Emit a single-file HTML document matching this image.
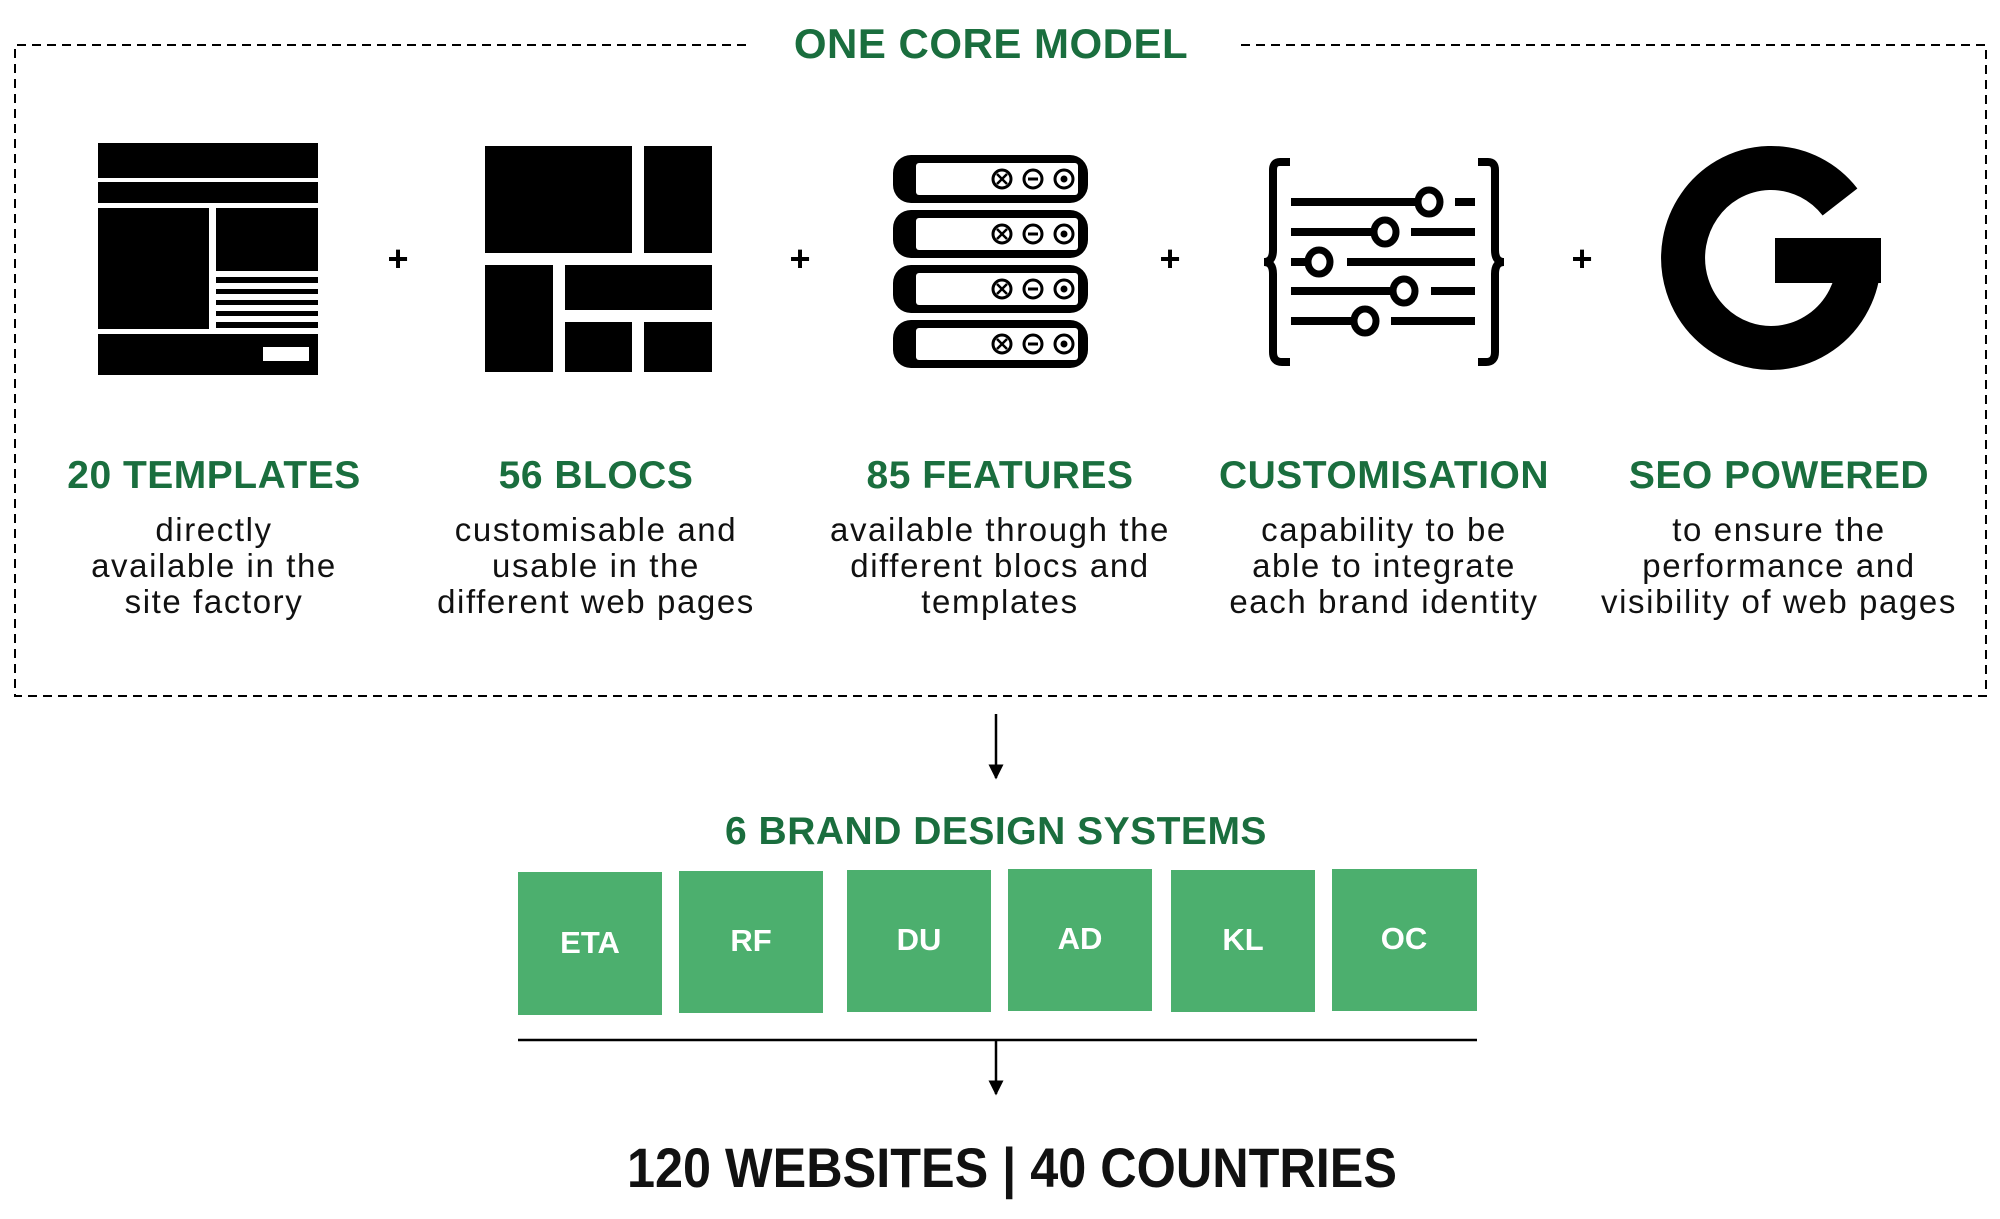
<!DOCTYPE html>
<html><head><meta charset="utf-8"><style>
html,body{margin:0;padding:0;background:#fff;}
svg{display:block;}
.h{font-family:"Liberation Sans",sans-serif;font-weight:bold;fill:#1a6e3e;text-anchor:middle;letter-spacing:0.5px;}
.b{font-family:"Liberation Sans",sans-serif;fill:#111;text-anchor:middle;font-size:33px;letter-spacing:1.6px;}
.w{font-family:"Liberation Sans",sans-serif;font-weight:bold;fill:#fff;text-anchor:middle;font-size:31px;}
</style></head><body>
<svg width="2000" height="1219" viewBox="0 0 2000 1219" xmlns="http://www.w3.org/2000/svg">
<defs>
<marker id="ah" viewBox="0 0 10 10" refX="9" refY="5" markerWidth="6" markerHeight="6" orient="auto"><path d="M0,0 L10,5 L0,10 z" fill="#000"/></marker>
</defs>
<g stroke="#000" stroke-width="2" stroke-dasharray="9,6" fill="none">
<path d="M746,45 H15 V696 H1986 V45 H1237"/>
</g>
<text class="h" x="991" y="58" font-size="42">ONE CORE MODEL</text>

<g fill="#000">
<rect x="98" y="143" width="220" height="35"/>
<rect x="98" y="182" width="220" height="21"/>
<rect x="98" y="208" width="111" height="121"/>
<rect x="216" y="208" width="102" height="63"/>
<rect x="216" y="277" width="102" height="6"/>
<rect x="216" y="289" width="102" height="5"/>
<rect x="216" y="300" width="102" height="5"/>
<rect x="216" y="311" width="102" height="5"/>
<rect x="216" y="322" width="102" height="6"/>
<rect x="98" y="334" width="220" height="41"/>
</g>
<rect x="263" y="347" width="46" height="14" fill="#fff"/>

<g fill="#000">
<rect x="485" y="146" width="147" height="107"/>
<rect x="644" y="146" width="68" height="107"/>
<rect x="485" y="265" width="68" height="107"/>
<rect x="565" y="265" width="147" height="45"/>
<rect x="565" y="322" width="67" height="50"/>
<rect x="644" y="322" width="68" height="50"/>
</g>

<g>
<g id="srv">
<rect x="893" y="155" width="195" height="48" rx="18" fill="#000"/>
<rect x="916" y="163" width="162" height="32" rx="3" fill="#fff"/>
<circle cx="1002" cy="179" r="9" fill="none" stroke="#000" stroke-width="3"/>
<path d="M997,174 L1007,184 M1007,174 L997,184" stroke="#000" stroke-width="2.5"/>
<circle cx="1033" cy="179" r="9" fill="none" stroke="#000" stroke-width="3"/>
<rect x="1028" y="177.5" width="10" height="3" fill="#000"/>
<circle cx="1064" cy="179" r="9" fill="none" stroke="#000" stroke-width="3"/>
<circle cx="1064" cy="179" r="3.5" fill="#000"/>
</g>
<use href="#srv" y="55"/>
<use href="#srv" y="110"/>
<use href="#srv" y="165"/>
</g>

<g fill="none" stroke="#000" stroke-width="8">
<path d="M1290,162 H1280 Q1273,162 1273,170 V250 Q1273,262 1264,262 Q1273,262 1273,274 V352 Q1273,362 1282,362 H1290"/>
<path d="M1478,162 H1488 Q1495,162 1495,170 V250 Q1495,262 1504,262 Q1495,262 1495,274 V352 Q1495,362 1486,362 H1478"/>
</g>
<g fill="#000">
<rect x="1291" y="198" width="124" height="8"/><rect x="1455" y="198" width="20" height="8"/>
<rect x="1291" y="228" width="80" height="8"/><rect x="1411" y="228" width="64" height="8"/>
<rect x="1291" y="258" width="14" height="8"/><rect x="1347" y="258" width="128" height="8"/>
<rect x="1291" y="287" width="99" height="8"/><rect x="1431" y="287" width="44" height="8"/>
<rect x="1291" y="317" width="60" height="8"/><rect x="1391" y="317" width="84" height="8"/>
</g>
<g fill="#fff" stroke="#000" stroke-width="7">
<ellipse cx="1429" cy="202" rx="11" ry="12"/>
<ellipse cx="1385" cy="232" rx="11" ry="12"/>
<ellipse cx="1319" cy="262" rx="11" ry="12"/>
<ellipse cx="1404" cy="291" rx="11" ry="12"/>
<ellipse cx="1365" cy="321" rx="11" ry="12"/>
</g>

<path d="M1840,202 A88 90 0 1 0 1859 262" fill="none" stroke="#000" stroke-width="44"/>
<rect x="1775" y="238" width="106" height="45" fill="#000"/>

<g font-family="Liberation Sans,sans-serif" font-weight="bold" font-size="36" text-anchor="middle" fill="#000">
<text x="398" y="271">+</text><text x="800" y="271">+</text><text x="1170" y="271">+</text><text x="1582" y="271">+</text>
</g>

<text class="h" x="214" y="488" font-size="39">20 TEMPLATES</text>
<text class="h" x="596" y="488" font-size="39">56 BLOCS</text>
<text class="h" x="1000" y="488" font-size="39">85 FEATURES</text>
<text class="h" x="1384" y="488" font-size="39">CUSTOMISATION</text>
<text class="h" x="1779" y="488" font-size="39">SEO POWERED</text>

<text class="b" x="214" y="541">directly</text>
<text class="b" x="214" y="577">available in the</text>
<text class="b" x="214" y="613">site factory</text>
<text class="b" x="596" y="541">customisable and</text>
<text class="b" x="596" y="577">usable in the</text>
<text class="b" x="596" y="613">different web pages</text>
<text class="b" x="1000" y="541">available through the</text>
<text class="b" x="1000" y="577">different blocs and</text>
<text class="b" x="1000" y="613">templates</text>
<text class="b" x="1384" y="541">capability to be</text>
<text class="b" x="1384" y="577">able to integrate</text>
<text class="b" x="1384" y="613">each brand identity</text>
<text class="b" x="1779" y="541">to ensure the</text>
<text class="b" x="1779" y="577">performance and</text>
<text class="b" x="1779" y="613">visibility of web pages</text>

<line x1="996" y1="714" x2="996" y2="778" stroke="#000" stroke-width="2.5" marker-end="url(#ah)"/>
<text class="h" x="996" y="844" font-size="39">6 BRAND DESIGN SYSTEMS</text>

<g fill="#4caf6e">
<rect x="518" y="872" width="144" height="143"/>
<rect x="679" y="871" width="144" height="142"/>
<rect x="847" y="870" width="144" height="142"/>
<rect x="1008" y="869" width="144" height="142"/>
<rect x="1171" y="870" width="144" height="142"/>
<rect x="1332" y="869" width="145" height="142"/>
</g>
<text class="w" x="590" y="953">ETA</text>
<text class="w" x="751" y="951">RF</text>
<text class="w" x="919" y="950">DU</text>
<text class="w" x="1080" y="949">AD</text>
<text class="w" x="1243" y="950">KL</text>
<text class="w" x="1404" y="949">OC</text>

<line x1="518" y1="1040" x2="1477" y2="1040" stroke="#000" stroke-width="2.5"/>
<line x1="996" y1="1040" x2="996" y2="1094" stroke="#000" stroke-width="2.5" marker-end="url(#ah)"/>

<text x="627" y="1187" textLength="770" lengthAdjust="spacingAndGlyphs" font-family="Liberation Sans,sans-serif" font-weight="bold" font-size="56" fill="#111">120 WEBSITES | 40 COUNTRIES</text>
</svg>
</body></html>
